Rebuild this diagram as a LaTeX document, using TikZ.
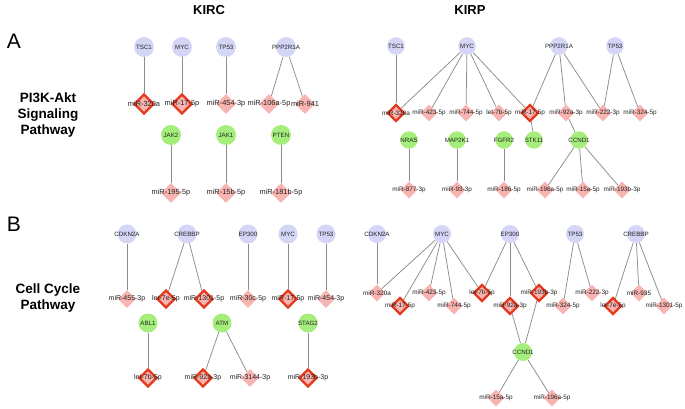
\documentclass[tikz,border=0pt]{standalone}
\usepackage{fontspec}
\setmainfont{Liberation Sans}
\usetikzlibrary{shapes.geometric}
\pgfdeclarelayer{background}
\pgfsetlayers{background,main}
\definecolor{genec}{HTML}{D5D5F7}
\definecolor{greenc}{HTML}{A6EE7C}
\definecolor{pinkc}{HTML}{F8B4B0}
\definecolor{redc}{HTML}{E5391D}
\definecolor{edgec}{HTML}{8C8C8C}
\definecolor{textc}{HTML}{222222}
\def\gsz{19pt}\def\msz{18pt}\def\mfs{6.8}
\begin{document}
\begin{tikzpicture}[x=1pt,y=-1pt,
  glbl/.style={font=\fontsize{6.2}{7}\selectfont, text=textc, inner sep=0pt},
  mlbl/.style={font=\fontsize{\mfs}{8}\selectfont, text=textc, inner sep=0pt},
  gene/.style={circle, fill=genec, minimum size=\gsz, inner sep=0pt, label={[glbl]center:#1}},
  tf/.style={circle, fill=greenc, minimum size=\gsz, inner sep=0pt, label={[glbl]center:#1}},
  mir/.style={diamond, fill=pinkc, minimum size=\msz, inner sep=0pt, label={[mlbl]center:#1}},
  hit/.style={mir=#1, draw=redc, line width=2.2pt},
  edge/.style={draw=edgec, line width=0.75pt},
  ttl/.style={font=\bfseries\fontsize{13}{15}\selectfont},
  big/.style={font=\fontsize{21}{24}\selectfont},
  path/.style={font=\bfseries\fontsize{13.5}{16}\selectfont, align=center}]
\useasboundingbox (0,0) rectangle (685,409);
\node[ttl] (tkirc) at (209,10) {KIRC};
\node[ttl] (tkirp) at (470,10) {KIRP};
\node[big] (la) at (14,41) {A};
\node[big] (lb) at (14,224) {B};
\node[path] (pa) at (48,115) {PI3K-Akt\\Signaling\\Pathway};
\node[path] (pb) at (48,298) {Cell Cycle\\Pathway};

% ---------- Panel A, KIRC ----------
\begin{scope}
\def\gsz{20pt}\def\msz{20pt}\def\mfs{7.4}
\node[gene=TSC1] (a1g1) at (144,47) {};
\node[gene=MYC] (a1g2) at (182,47) {};
\node[gene=TP53] (a1g3) at (226,47) {};
\node[gene=PPP2R1A] (a1g4) at (286,47) {};
\node[hit=miR-320a] (a1m1) at (144,104) {};
\node[hit=miR-17-5p] (a1m2) at (182,104) {};
\node[mir=miR-454-3p] (a1m3) at (226,104) {};
\node[mir=miR-106a-5p] (a1m4) at (269,104) {};
\node[mir=miR-941] (a1m5) at (305,104) {};
\node[tf=JAK2] (a1t1) at (171,135) {};
\node[tf=JAK1] (a1t2) at (226,135) {};
\node[tf=PTEN] (a1t3) at (281,135) {};
\node[mir=miR-195-5p] (a1n1) at (171,193) {};
\node[mir=miR-15b-5p] (a1n2) at (226,193) {};
\node[mir=miR-181b-5p] (a1n3) at (281,193) {};
\begin{pgfonlayer}{background}
\draw[edge] (a1g1) -- (a1m1);
\draw[edge] (a1g2) -- (a1m2);
\draw[edge] (a1g3) -- (a1m3);
\draw[edge] (a1g4) -- (a1m4);
\draw[edge] (a1g4) -- (a1m5);
\draw[edge] (a1t1) -- (a1n1);
\draw[edge] (a1t2) -- (a1n2);
\draw[edge] (a1t3) -- (a1n3);
\end{pgfonlayer}
\end{scope}

% ---------- Panel A, KIRP ----------
\begin{scope}
\def\gsz{17.5pt}\def\msz{17pt}\def\mfs{6.4}
\node[gene=TSC1] (a2g1) at (396,46) {};
\node[gene=MYC] (a2g2) at (467,46) {};
\node[gene=PPP2R1A] (a2g3) at (559,46) {};
\node[gene=TP53] (a2g4) at (615,46) {};
\node[hit=miR-320a] (a2m1) at (396,113) {};
\node[mir=miR-423-5p] (a2m2) at (429,113) {};
\node[mir=miR-744-5p] (a2m3) at (466,113) {};
\node[mir=let-7b-5p] (a2m4) at (499,113) {};
\node[hit=miR-17-5p] (a2m5) at (530,113) {};
\node[mir=miR-92a-3p] (a2m6) at (566,113) {};
\node[mir=miR-222-3p] (a2m7) at (603,113) {};
\node[mir=miR-324-5p] (a2m8) at (640,113) {};
\node[tf=NRAS] (a2t1) at (409,140) {};
\node[tf=MAP2K1] (a2t2) at (457,140) {};
\node[tf=FGFR2] (a2t3) at (504,140) {};
\node[tf=STK11] (a2t4) at (534,140) {};
\node[tf=CCND1] (a2t5) at (579,140) {};
\node[mir=miR-877-3p] (a2n1) at (409,190) {};
\node[mir=miR-93-3p] (a2n2) at (457,190) {};
\node[mir=miR-186-5p] (a2n3) at (504,190) {};
\node[mir=miR-196a-5p] (a2n4) at (545,190) {};
\node[mir=miR-15a-5p] (a2n5) at (583,190) {};
\node[mir=miR-193b-3p] (a2n6) at (622,190) {};
\begin{pgfonlayer}{background}
\draw[edge] (a2g1) -- (a2m1);
\draw[edge] (a2g2) -- (a2m1);
\draw[edge] (a2g2) -- (a2m2);
\draw[edge] (a2g2) -- (a2m3);
\draw[edge] (a2g2) -- (a2m4);
\draw[edge] (a2g2) -- (a2m5);
\draw[edge] (a2g3) -- (a2m5);
\draw[edge] (a2g3) -- (a2m6);
\draw[edge] (a2g3) -- (a2m7);
\draw[edge] (a2g4) -- (a2m7);
\draw[edge] (a2g4) -- (a2m8);
\draw[edge] (a2m5) -- (a2t4);
\draw[edge] (a2m6) -- (a2t5);
\draw[edge] (a2t1) -- (a2n1);
\draw[edge] (a2t2) -- (a2n2);
\draw[edge] (a2t3) -- (a2n3);
\draw[edge] (a2t5) -- (a2n4);
\draw[edge] (a2t5) -- (a2n5);
\draw[edge] (a2t5) -- (a2n6);
\end{pgfonlayer}
\end{scope}

% ---------- Panel B, KIRC ----------
\begin{scope}
\def\gsz{19pt}\def\msz{18pt}\def\mfs{7}
\node[gene=CDKN2A] (b1g1) at (127,234) {};
\node[gene=CREBBP] (b1g2) at (187,234) {};
\node[gene=EP300] (b1g3) at (248,234) {};
\node[gene=MYC] (b1g4) at (288,234) {};
\node[gene=TP53] (b1g5) at (326,234) {};
\node[mir=miR-455-3p] (b1m1) at (127,299) {};
\node[hit=let-7e-5p] (b1m2) at (166,299) {};
\node[hit=miR-1301-5p] (b1m3) at (204,299) {};
\node[mir=miR-30c-5p] (b1m4) at (248,299) {};
\node[hit=miR-17-5p] (b1m5) at (288,299) {};
\node[mir=miR-454-3p] (b1m6) at (326,299) {};
\node[tf=ABL1] (b1t1) at (148,323) {};
\node[tf=ATM] (b1t2) at (222,323) {};
\node[tf=STAG2] (b1t3) at (308,323) {};
\node[hit=let-7b-5p] (b1n1) at (148,378) {};
\node[hit=miR-92a-3p] (b1n2) at (203,378) {};
\node[mir=miR-3144-3p] (b1n3) at (250,378) {};
\node[hit=miR-193b-3p] (b1n4) at (308,378) {};
\begin{pgfonlayer}{background}
\draw[edge] (b1g1) -- (b1m1);
\draw[edge] (b1g2) -- (b1m2);
\draw[edge] (b1g2) -- (b1m3);
\draw[edge] (b1g3) -- (b1m4);
\draw[edge] (b1g4) -- (b1m5);
\draw[edge] (b1g5) -- (b1m6);
\draw[edge] (b1t1) -- (b1n1);
\draw[edge] (b1t2) -- (b1n2);
\draw[edge] (b1t2) -- (b1n3);
\draw[edge] (b1t3) -- (b1n4);
\end{pgfonlayer}
\end{scope}

% ---------- Panel B, KIRP ----------
\begin{scope}
\def\gsz{18pt}\def\msz{17pt}\def\mfs{6.4}
\node[gene=CDKN2A] (b2g1) at (377,234) {};
\node[gene=MYC] (b2g2) at (442,234) {};
\node[gene=EP300] (b2g3) at (510,234) {};
\node[gene=TP53] (b2g4) at (575,234) {};
\node[gene=CREBBP] (b2g5) at (636,234) {};
\node[mir=miR-320a] (b2m1) at (377,293) {};
\node[mir=miR-423-5p] (b2m2) at (429,293) {};
\node[hit=let-7b-5p] (b2m3) at (482,293) {};
\node[hit=miR-193b-3p] (b2m4) at (539,293) {};
\node[mir=miR-222-3p] (b2m5) at (592,293) {};
\node[mir=miR-935] (b2m6) at (639,293) {};
\node[hit=miR-17-5p] (b2p1) at (400,306) {};
\node[mir=miR-744-5p] (b2p2) at (454,306) {};
\node[hit=miR-92a-3p] (b2p3) at (510,306) {};
\node[mir=miR-324-5p] (b2p4) at (563,306) {};
\node[hit=let-7e-5p] (b2p5) at (613,306) {};
\node[mir=miR-1301-5p] (b2p6) at (664,306) {};
\node[tf=CCND1] (b2t1) at (523,352) {};
\node[mir=miR-15a-5p] (b2n1) at (496,398) {};
\node[mir=miR-196a-5p] (b2n2) at (552,398) {};
\begin{pgfonlayer}{background}
\draw[edge] (b2g1) -- (b2m1);
\draw[edge] (b2g2) -- (b2m1);
\draw[edge] (b2g2) -- (b2p1);
\draw[edge] (b2g2) -- (b2m2);
\draw[edge] (b2g2) -- (b2p2);
\draw[edge] (b2g2) -- (b2m3);
\draw[edge] (b2g3) -- (b2m3);
\draw[edge] (b2g3) -- (b2p3);
\draw[edge] (b2g3) -- (b2m4);
\draw[edge] (b2g4) -- (b2p4);
\draw[edge] (b2g4) -- (b2m5);
\draw[edge] (b2g5) -- (b2p5);
\draw[edge] (b2g5) -- (b2m6);
\draw[edge] (b2g5) -- (b2p6);
\draw[edge] (b2p3) -- (b2t1);
\draw[edge] (b2m4) -- (b2t1);
\draw[edge] (b2t1) -- (b2n1);
\draw[edge] (b2t1) -- (b2n2);
\end{pgfonlayer}
\end{scope}
\end{tikzpicture}
\end{document}
